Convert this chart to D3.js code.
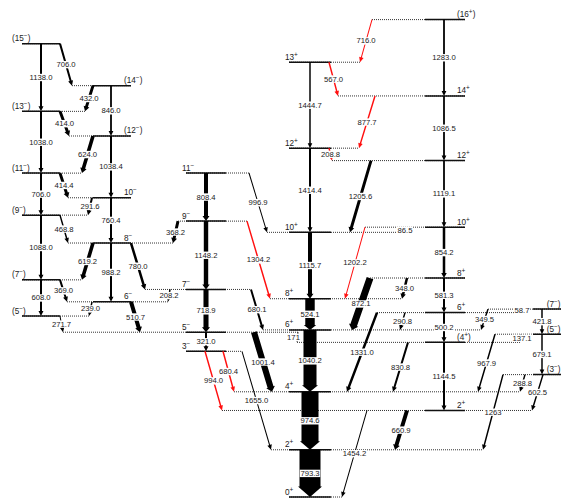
<!DOCTYPE html>
<html><head><meta charset="utf-8">
<script src="https://cdn.jsdelivr.net/npm/d3@7"></script>
<style>
html,body{margin:0;padding:0;background:#fff;}
svg{display:block;}
text{font-family:"Liberation Sans",Arial,Helvetica,sans-serif;fill:#1a1a1a;}
.soft{opacity:0.995;}
</style></head><body>
<svg id="chart" width="561" height="500"></svg>
<script>
// ---- Levels (key: band letter + index, energy in keV, spin/parity) ----
const levelKeys = ["D0","D2","D4","D6","D8","D10","D12","D13",
  "E2","E4","E6","E8","E10","E12","E14","E16",
  "C3","C5","C7","C9","C11",
  "B6","B8","B10","B12","B14",
  "A5","A7","A9","A11","A13","A15",
  "F3","F5","F7"];
const levelEnergy = [0, 793.3, 1767.9, 2808.1, 3332.2, 4447.9, 5862.3, 7307.0,
  1454.2, 2598.7, 3098.9, 3680.2, 4534.4, 5653.5, 6740.0, 8023.0,
  2448.3, 2769.3, 3488.2, 4636.4, 5444.8,
  3280.0, 4268.2, 5028.6, 6067.0, 6913.0,
  3041.0, 3649.0, 4737.0, 5443.0, 6481.0, 7619.0,
  2056.7, 2735.8, 3157.6];
const levelSpin = ["0+","2+","4+","6+","8+","10+","12+","13+",
  "2+","(4+)","6+","8+","10+","12+","14+","(16+)",
  "3−","5−","7−","9−","11−",
  "6−","8−","10−","(12−)","(14−)",
  "(5−)","(7−)","(9−)","(11−)","(13−)","(15−)",
  "(3−)","(5−)","(7−)"];

// ---- Gamma transitions ----
const gammaFrom = ["A15","A13","A11","A9","A7",
  "B14","B12","B10","B8",
  "C11","C9","C7","C5",
  "D13","D12","D10","D8","D6","D4","D2",
  "E16","E14","E12","E10","E8","E6","E4",
  "F7","F5",
  "A15","B14","A13","B12","A11","B10","A9","B8","A7","B6","A5",
  "B8","C9","C7","B6",
  "C11","C9","C7","C5","C5","C3","C3","C3",
  "E2","E2","E4","E6","E6","E8","E8","E10","E10","E12","D12","E14","D13","E16",
  "F7","F7","F5","F5","F3","F3","F3"];
const gammaTo = ["A13","A11","A9","A7","A5",
  "B12","B10","B8","B6",
  "C9","C7","C5","C3",
  "D12","D10","D8","D6","D4","D2","D0",
  "E14","E12","E10","E8","E6","E4","E2",
  "F5","F3",
  "B14","A13","B12","A11","B10","A9","B8","A7","B6","A5","C5",
  "C7","B8","B6","C5",
  "D10","D8","D6","D4","E4","E2","D4","D2",
  "D0","D2","D4","D4","D6","D6","D8","D10","D8","D10","E12","D12","E14","D13",
  "E6","D6","E4","D4","D4","E2","D2"];
const gammaLabel = ["1138.0","1038.0","706.0","1088.0","608.0",
  "846.0","1038.4","760.4","988.2",
  "808.4","1148.2","718.9","321.0",
  "1444.7","1414.4","1115.7","524.1","1040.2","974.6","793.3",
  "1283.0","1086.5","1119.1","854.2","581.3","500.2","1144.5",
  "421.8","679.1",
  "706.0","432.0","414.0","624.0","414.4","291.6","468.8","619.2","369.0","239.0","271.7",
  "780.0","368.2","208.2","510.7",
  "996.9","1304.2","680.1","1001.4","171","994.0","680.4","1655.0",
  "1454.2","660.9","830.8","1331.0","290.8","872.1","348.0","86.5","1202.2","1205.6","208.8","877.7","567.0","716.0",
  "58.7","349.5","137.1","967.9","288.8","602.5","1263"];
// relative gamma intensity (strongest = 100)
const gammaIntensity = [9.5,9.5,9.5,9.5,9.5,
  8.5,9.5,9.5,9.5,
  19,21,24,9.5,
  7,9.5,19,45,62,81,100,
  8.5,8.5,8.5,12,9.5,9.5,9.5,
  7,7,
  9.5,14,14,17,14,9.5,7,17,9.5,7,4.8,
  12,14,7,19,
  4.8,7,9.5,29,4.8,7,7,4.8,
  4.8,19,9.5,12,7,33,12,4.8,4.8,14,7,7,7,4.8,
  4.8,7,4.8,7,7,7,7];
// newly placed transitions
const gammaNew = ["1304.2","994.0","680.4","1202.2","208.8","877.7","567.0","716.0"];

// ---- Layout ----
const bandLayout = {
  A: {center: 41,  x0: 22,  x1: 60,  labelX: 12,  anchor: "start"},
  B: {center: 111, x0: 93,  x1: 131, labelX: 124, anchor: "start"},
  C: {center: 206, x0: 186, x1: 226, labelX: 182, anchor: "start"},
  D: {center: 310, x0: 289, x1: 331, labelX: 285, anchor: "start"},
  E: {center: 444, x0: 425, x1: 465, labelX: 457, anchor: "start"},
  F: {center: 542, x0: 533, x1: 580, labelX: 560.5, anchor: "end"}
};
// horizontal anchor of inter-band transitions at the initial and final level
const crossAnchor = {
  "A15-B14":[60,72], "B14-A13":[93,85], "A13-B12":[60,69], "B12-A11":[93,82],
  "A11-B10":[60,68], "B10-A9":[92,88], "A9-B8":[60,68], "B8-A7":[93,82],
  "A7-B6":[60,67], "B6-A5":[92,89], "A5-C5":[60,63],
  "B8-C7":[131,145], "C9-B8":[178,173], "C7-B6":[170,168], "B6-C5":[131,140],
  "C11-D10":[249,267], "C9-D8":[247,270], "C7-D6":[251,263], "C5-D4":[254,272],
  "C5-E4":[298,297], "C3-E2":[205,222], "C3-D4":[223,234], "C3-D2":[242,271],
  "E2-D0":[367,342], "E2-D2":[407,395], "E4-D4":[408,393], "E6-D4":[377,347],
  "E6-D6":[405,400], "E8-D6":[370,352], "E8-D8":[407,402], "E10-D10":[405,405],
  "E10-D8":[365,345], "E12-D10":[371,350], "D12-E12":[329,332], "E14-D12":[375,359],
  "D13-E14":[329,338], "E16-D13":[372,360],
  "F7-E6":[520,520], "F7-D6":[488,481], "F5-E4":[521,520], "F5-D4":[495,478],
  "F3-D4":[525,520], "F3-E2":[543,532], "F3-D2":[503,483]
};
const labelShift = {"C5-E4":[-4,0], "F7-E6":[2,0], "F5-E4":[1.5,0], "E10-D10":[0,0.5]};

// ---- Scales ----
const y = d3.scaleLinear().domain([0, 8023]).range([497, 19.6]);
const x = d3.scaleLinear().domain([0, 561]).range([0, 561]);
const widthScale = d3.scaleLinear().domain([0, 100]).range([0, 21]);

const svg = d3.select("#chart");

const levels = levelKeys.map((k, i) => ({
  key: k, band: k[0], E: levelEnergy[i], spin: levelSpin[i]
}));
const levelByKey = new Map(levels.map(d => [d.key, d]));

const gammas = gammaLabel.map((lab, i) => {
  const f = levelByKey.get(gammaFrom[i]), t = levelByKey.get(gammaTo[i]);
  const id = f.key + "-" + t.key;
  let xa, xb;
  if (f.band === t.band) { xa = xb = bandLayout[f.band].center; }
  else { [xa, xb] = crossAnchor[id]; }
  return {id, from: f, to: t, label: lab, I: gammaIntensity[i],
          isNew: gammaNew.includes(lab), xa, xb};
});

// level extents include every transition that starts or ends on it
levels.forEach(l => {
  const b = bandLayout[l.band];
  let lo = b.x0, hi = b.x1;
  gammas.forEach(g => {
    if (g.from === l) { lo = Math.min(lo, g.xa); hi = Math.max(hi, g.xa); }
    if (g.to === l) { lo = Math.min(lo, g.xb); hi = Math.max(hi, g.xb); }
  });
  l.lo = lo; l.hi = hi;
});

// ---- Levels ----
const gLev = svg.append("g");
gLev.selectAll("line.dot").data(levels).join("line")
  .attr("x1", d => x(d.lo)).attr("x2", d => x(d.hi))
  .attr("y1", d => y(d.E)).attr("y2", d => y(d.E))
  .attr("stroke", "#333").attr("stroke-width", 1)
  .attr("stroke-dasharray", "1,1");
gLev.selectAll("line.solid").data(levels).join("line")
  .attr("x1", d => x(bandLayout[d.band].x0)).attr("x2", d => x(bandLayout[d.band].x1))
  .attr("y1", d => y(d.E)).attr("y2", d => y(d.E))
  .attr("stroke", "#111").attr("stroke-width", 1.5);

// spin labels with superscript parity
const spinText = svg.append("g").attr("class", "soft")
  .selectAll("text").data(levels).join("text")
  .attr("x", d => x(bandLayout[d.band].labelX))
  .attr("y", d => y(d.E) - 2.5)
  .attr("text-anchor", d => bandLayout[d.band].anchor)
  .attr("font-size", 8.2);
spinText.each(function(d) {
  const m = d.spin.match(/^(\(?)(\d+)([+−])(\)?)$/);
  const t = d3.select(this);
  t.append("tspan").text(m[1] + m[2]);
  t.append("tspan").attr("dy", -3).attr("font-size", 6.5).text(m[3]);
  if (m[4]) t.append("tspan").attr("dy", 3).text(m[4]);
});

// ---- Transitions ----
function arrowPoints(x1, y1, x2, y2, w) {
  const dx = x2 - x1, dy = y2 - y1, L = Math.hypot(dx, dy);
  const ux = dx / L, uy = dy / L, nx = -uy, ny = ux;
  const hl = Math.min(Math.max(5, w * 0.5), L * 0.7);
  const hw = Math.max(w + 3, 4.6) / 2, h = w / 2;
  const sx = x2 - ux * hl, sy = y2 - uy * hl;
  return [
    [x1 + nx * h, y1 + ny * h], [sx + nx * h, sy + ny * h], [sx + nx * hw, sy + ny * hw],
    [x2, y2],
    [sx - nx * hw, sy - ny * hw], [sx - nx * h, sy - ny * h], [x1 - nx * h, y1 - ny * h]
  ];
}
const gTr = svg.append("g");
gTr.selectAll("polygon").data(gammas).join("polygon")
  .attr("points", d => arrowPoints(x(d.xa), y(d.from.E), x(d.xb), y(d.to.E), widthScale(d.I))
    .map(p => p.join(",")).join(" "))
  .attr("fill", d => d.isNew ? "#ff1010" : "#000");

// ---- Energy labels on white boxes ----
const gLab = svg.append("g").attr("class", "soft");
gammas.forEach(d => {
  const sh = labelShift[d.id] || [0, 0];
  const cx = x((d.xa + d.xb) / 2) + sh[0];
  const cy = (y(d.from.E) + y(d.to.E)) / 2 + sh[1];
  const g = gLab.append("g");
  const t = g.append("text").attr("x", cx).attr("y", cy)
    .attr("text-anchor", "middle").attr("dominant-baseline", "central")
    .attr("font-size", 7.7).text(d.label);
  const bb = t.node().getBBox();
  g.insert("rect", "text").attr("x", bb.x - 0.6).attr("y", bb.y + 0.8)
    .attr("width", bb.width + 1.2).attr("height", bb.height - 1.6).attr("fill", "#fff");
});
</script>
</body></html>
